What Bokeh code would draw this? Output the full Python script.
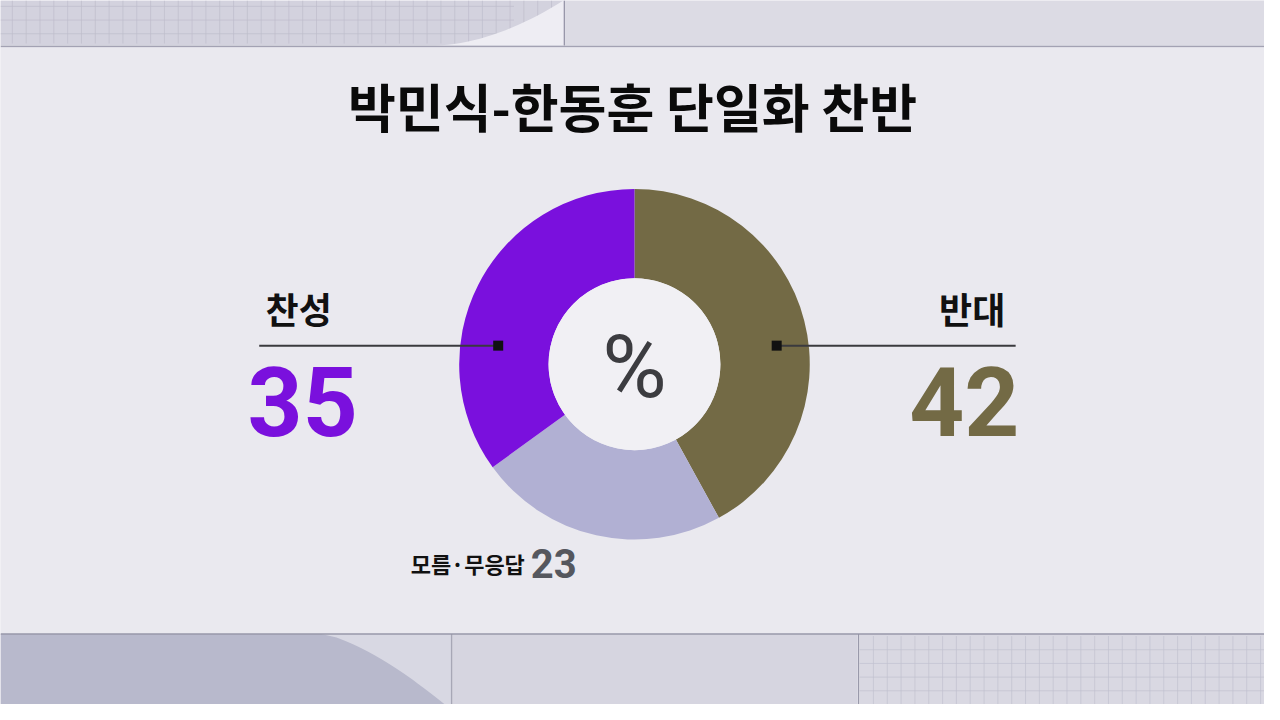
import math
from bokeh.plotting import figure
from bokeh.models import ColumnDataSource, Range1d
from bokeh.core.properties import value
from bokeh.embed import file_html
from bokeh.resources import INLINE

# ---- data ----
title_text = "박민식-한동훈 단일화 찬반"
categories = ["반대", "모름·무응답", "찬성"]
values = [42, 23, 35]
colors = ["#736a45", "#b1b0d3", "#7a10dd"]
unit_text = "%"

W, H = 1264, 704
def Y(v):
    return 720 - v

p = figure(width=W, height=H, output_backend="svg", toolbar_location=None,
           x_range=Range1d(0, 1280), y_range=Range1d(0, 720),
           x_axis_type=None, y_axis_type=None, min_border=0)
p.outline_line_color = None
p.grid.visible = False
p.background_fill_color = "#e7e6ed"
p.border_fill_color = "#e7e6ed"

# ---- background panels ----
p.quad(left=[0], right=[572], top=[Y(0)], bottom=[Y(46)], fill_color="#d3d2de", line_color=None)
p.quad(left=[572], right=[1280], top=[Y(0)], bottom=[Y(46)], fill_color="#dcdbe4", line_color=None)
gx = list(range(12, 560, 14))
p.segment(x0=gx, y0=[Y(0)] * len(gx), x1=gx, y1=[Y(44)] * len(gx), line_color="#bebdcc", line_width=0.7)
gy = [6, 20, 34]
p.segment(x0=[0] * 3, y0=[Y(v) for v in gy], x1=[520] * 3, y1=[Y(v) for v in gy], line_color="#bebdcc", line_width=0.7)
# curl on top strip
cxs = [440 + 130 * t / 20 for t in range(21)]
cys = [Y(46 - 46 * (t / 20) ** 1.8) for t in range(21)]
p.patch(x=cxs + [570, 440], y=cys + [Y(46), Y(46)], fill_color="#eeedf3", line_color=None)
p.segment(x0=[571], y0=[Y(0)], x1=[571], y1=[Y(46)], line_color="#8f8ea0", line_width=1)
p.segment(x0=[0], y0=[Y(47)], x1=[1280], y1=[Y(47)], line_color="#a3a2b3", line_width=1.5)

# main panel
p.quad(left=[0], right=[1280], top=[Y(48)], bottom=[Y(647)], fill_color="#eae9ef", line_color=None)

# bottom strip
p.quad(left=[0], right=[456], top=[Y(648)], bottom=[Y(720)], fill_color="#b8b9cc", line_color=None)
bxs = [325 + 125 * (t / 20) ** 0.7 for t in range(21)]
bys = [Y(648 + 72 * t / 20) for t in range(21)]
p.patch(x=bxs + [456, 456], y=bys + [Y(720), Y(648)], fill_color="#d8d8e3", line_color=None)
p.quad(left=[458], right=[868], top=[Y(648)], bottom=[Y(720)], fill_color="#d6d5e0", line_color=None)
p.quad(left=[870], right=[1280], top=[Y(648)], bottom=[Y(720)], fill_color="#d9d8e2", line_color=None)
bx = list(range(884, 1280, 14))
p.segment(x0=bx, y0=[Y(650)] * len(bx), x1=bx, y1=[Y(720)] * len(bx), line_color="#c2c1d0", line_width=0.7)
by = [664, 678, 692, 706]
p.segment(x0=[870] * 4, y0=[Y(v) for v in by], x1=[1280] * 4, y1=[Y(v) for v in by], line_color="#c2c1d0", line_width=0.7)
p.segment(x0=[0], y0=[Y(648)], x1=[1280], y1=[Y(648)], line_color="#9998aa", line_width=1.5)
p.segment(x0=[457, 869], y0=[Y(648), Y(648)], x1=[457, 869], y1=[Y(720), Y(720)], line_color="#8e8ea0", line_width=1)

# ---- donut ----
cx, cy = 642, Y(372)
total = float(sum(values))
starts, ends = [], []
acc = 0.0
for v in values:
    a0 = math.pi / 2 - 2 * math.pi * acc / total
    acc += v
    a1 = math.pi / 2 - 2 * math.pi * acc / total
    starts.append(a0)
    ends.append(a1)
src = ColumnDataSource(dict(cat=categories, val=values, color=colors, start=starts, end=ends,
                            x=[cx] * 3, y=[cy] * 3))
p.annular_wedge(x="x", y="y", inner_radius=87, outer_radius=177.5, start_angle="start", end_angle="end",
                direction="clock", fill_color="color", line_color=None, source=src)
p.circle(x=[cx], y=[cy], radius=87, fill_color="#f1f0f4", line_color=None)
p.text(x=[cx], y=[Y(374)], text=[unit_text], text_font=value("Roboto"),
       text_font_size="88px", text_align="center", text_baseline="alphabetic", text_color="#3c3c40")

# ---- leader lines ----
p.segment(x0=[262, 786], y0=[Y(353), Y(353)], x1=[504, 1028], y1=[Y(353), Y(353)],
          line_color="#3a3a3e", line_width=2)
p.scatter(x=[504, 786], y=[Y(353), Y(353)], marker="square", size=10, fill_color="#111111", line_color=None)

# ---- labels ----
kfont = value("Noto Sans CJK KR")
nfont = value("Roboto")
p.text(x=[302], y=[Y(314)], text=[categories[2]], text_font=kfont, text_font_style="bold",
       text_font_size="36px", text_align="center", text_baseline="middle", text_color="#111111")
p.text(x=[306], y=[Y(410)], text=[str(values[2])], text_font=nfont, text_font_style="bold",
       text_font_size="96px", text_align="center", text_baseline="alphabetic", text_color=colors[2])

p.text(x=[984], y=[Y(314)], text=[categories[0]], text_font=kfont, text_font_style="bold",
       text_font_size="36px", text_align="center", text_baseline="middle", text_color="#111111")
p.text(x=[976], y=[Y(410)], text=[str(values[0])], text_font=nfont, text_font_style="bold",
       text_font_size="96px", text_align="center", text_baseline="alphabetic", text_color=colors[0])

p.text(x=[531], y=[Y(575)], text=[categories[1]], text_font=kfont, text_font_style="bold",
       text_font_size="22px", text_align="right", text_baseline="middle", text_color="#111111")
p.text(x=[537], y=[Y(576)], text=[str(values[1])], text_font=nfont, text_font_style="bold",
       text_font_size="40px", text_align="left", text_baseline="alphabetic", text_color="#55575e")

# ---- title ----
p.text(x=[640], y=[Y(107)], text=[title_text], text_font=kfont, text_font_style="bold",
       text_font_size="52px", text_align="center", text_baseline="middle", text_color="#0a0a0a")

open("out.html", "w").write(file_html(p, INLINE))
